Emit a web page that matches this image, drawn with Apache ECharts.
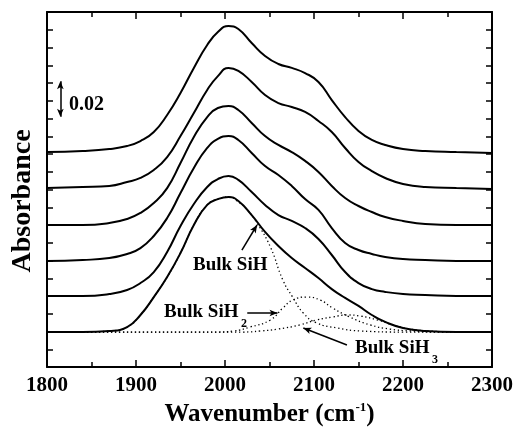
<!DOCTYPE html>
<html lang="en">
<head>
    <meta charset="UTF-8">
    <title>Absorbance vs Wavenumber</title>
    <script src="https://cdn.jsdelivr.net/npm/echarts/dist/echarts.min.js"></script>
    <style>
        body {
            margin: 0;
            background-color: #fff;
        }
        #chart {
            width: 513px;
            height: 432px;
        }
    </style>
</head>
<body>
<div id="chart"></div>

<script>
    // 六条实测谱线共用的波数
    const wavenumbers = [1800, 1840, 1870, 1890, 1905, 1920, 1935, 1950, 1965, 1980, 1992, 2004, 2015, 2030,
        2045, 2060, 2075, 2090, 2105, 2120, 2135, 2150, 2165, 2180, 2200, 2225, 2260, 2300];

    // 从上到下的六条谱线 (已加偏移)
    const spectrum1 = [0.1211, 0.1217, 0.1228, 0.1245, 0.1273, 0.1324, 0.1420, 0.1544, 0.1685, 0.1814, 0.1887, 0.1921, 0.1904, 0.1825,
        0.1752, 0.1707, 0.1685, 0.1656, 0.1606, 0.1504, 0.1408, 0.1330, 0.1279, 0.1251, 0.1228, 0.1217, 0.1211, 0.1206];
    const spectrum2 = [0.1008, 0.1014, 0.1020, 0.1042, 0.1065, 0.1110, 0.1183, 0.1301, 0.1431, 0.1561, 0.1639, 0.1685, 0.1668, 0.1606,
        0.1532, 0.1487, 0.1465, 0.1437, 0.1386, 0.1324, 0.1234, 0.1155, 0.1104, 0.1065, 0.1031, 0.1014, 0.1008, 0.1003];
    const spectrum3 = [0.0800, 0.0800, 0.0811, 0.0834, 0.0868, 0.0924, 0.1008, 0.1149, 0.1296, 0.1408, 0.1459, 0.1470, 0.1448, 0.1375,
        0.1301, 0.1251, 0.1211, 0.1161, 0.1099, 0.1020, 0.0952, 0.0907, 0.0873, 0.0845, 0.0823, 0.0806, 0.0800, 0.0800];
    const spectrum4 = [0.0597, 0.0603, 0.0614, 0.0637, 0.0670, 0.0738, 0.0839, 0.0980, 0.1121, 0.1234, 0.1285, 0.1301, 0.1279, 0.1206,
        0.1132, 0.1082, 0.1020, 0.0946, 0.0885, 0.0783, 0.0699, 0.0659, 0.0637, 0.0620, 0.0608, 0.0603, 0.0597, 0.0597];
    const spectrum5 = [0.0400, 0.0400, 0.0411, 0.0434, 0.0473, 0.0535, 0.0648, 0.0794, 0.0918, 0.1014, 0.1059, 0.1076, 0.1054, 0.0986,
        0.0913, 0.0856, 0.0823, 0.0783, 0.0721, 0.0631, 0.0535, 0.0473, 0.0439, 0.0423, 0.0411, 0.0406, 0.0400, 0.0400];
    const spectrum6 = [0.0197, 0.0197, 0.0203, 0.0225, 0.0293, 0.0394, 0.0507, 0.0642, 0.0800, 0.0913, 0.0946, 0.0958, 0.0935, 0.0856,
        0.0761, 0.0682, 0.0614, 0.0558, 0.0501, 0.0439, 0.0389, 0.0344, 0.0293, 0.0254, 0.0220, 0.0203, 0.0197, 0.0197];

    // 最下面谱线的拟合分量 (虚线)
    const sihWn = [1800, 1840, 1870, 1890, 1905, 1920, 1935, 1950, 1965, 1980, 1992, 2004, 2015, 2025, 2036, 2051, 2065, 2076,
        2088, 2103, 2126, 2152, 2200, 2300];
    const sihAbs = [0.0197, 0.0197, 0.0203, 0.0225, 0.0293, 0.0394, 0.0507, 0.0642, 0.0800, 0.0913, 0.0946, 0.0958, 0.0930, 0.0885,
        0.0811, 0.0676, 0.0490, 0.0394, 0.0304, 0.0248, 0.0220, 0.0203, 0.0197, 0.0197];
    const sih2Wn = [1800, 1990, 2010, 2028, 2051, 2065, 2076, 2092, 2107, 2121, 2140, 2163, 2185, 2208, 2240, 2300];
    const sih2Abs = [0.0197, 0.0197, 0.0203, 0.0225, 0.0265, 0.0332, 0.0377, 0.0394, 0.0377, 0.0332, 0.0282, 0.0237, 0.0214, 0.0203,
        0.0197, 0.0197];
    const sih3Wn = [1800, 2020, 2040, 2060, 2084, 2103, 2121, 2137, 2152, 2171, 2189, 2208, 2230, 2260, 2300];
    const sih3Abs = [0.0197, 0.0197, 0.0203, 0.0214, 0.0237, 0.0265, 0.0282, 0.0293, 0.0287, 0.0265, 0.0237, 0.0214, 0.0203,
        0.0197, 0.0197];

    // 标尺 0.02 和标注箭头 (数据坐标)
    const scaleBar = [[1815, 0.141], [1815, 0.161]];
    const sihArrow = [[2019, 0.0659], [2036, 0.0800]];
    const sih2Arrow = [[2025, 0.0304], [2059, 0.0304]];
    const sih3Arrow = [[2137, 0.0124], [2088, 0.0220]];

    const font = 'Liberation Serif, Times New Roman, serif';
    const spectra = [spectrum1, spectrum2, spectrum3, spectrum4, spectrum5, spectrum6];

    function pairs(xs, ys) {
        return xs.map((x, i) => [x, ys[i]]);
    }

    function dotted(xs, ys) {
        return {
            type: 'line',
            data: pairs(xs, ys),
            smooth: 0.5,
            symbol: 'none',
            z: 2,
            lineStyle: {color: '#000', width: 1.3, type: [1.3, 2.7]}
        };
    }

    function arrowLine(pts, both) {
        return [{coord: pts[0], symbol: both ? 'arrow' : 'none'}, {coord: pts[1], symbol: 'arrow'}];
    }

    const series = [
        dotted(sihWn, sihAbs),
        dotted(sih2Wn, sih2Abs),
        dotted(sih3Wn, sih3Abs)
    ];
    spectra.forEach(s => {
        series.push({
            type: 'line',
            data: pairs(wavenumbers, s),
            smooth: 0.5,
            symbol: 'none',
            z: 3,
            lineStyle: {color: '#000', width: 2}
        });
    });
    series[series.length - 1].markLine = {
        silent: true,
        animation: false,
        symbolSize: [5, 8],
        label: {show: false},
        lineStyle: {color: '#000', width: 1.5, type: 'solid'},
        data: [
            arrowLine(scaleBar, true),
            arrowLine(sihArrow, false),
            arrowLine(sih2Arrow, false),
            arrowLine(sih3Arrow, false)
        ]
    };

    const tickAxis = {
        axisLine: {show: true, onZero: false, lineStyle: {color: '#000', width: 2}},
        axisTick: {show: true, inside: true, length: 7, lineStyle: {color: '#000', width: 1.5}},
        splitLine: {show: false}
    };

    const chart = echarts.init(document.getElementById('chart'));
    chart.setOption({
        animation: false,
        grid: {left: 47, right: 21, top: 12, bottom: 65, containLabel: false, outerBoundsMode: 'none'},
        xAxis: [
            Object.assign({}, tickAxis, {
                type: 'value', min: 1800, max: 2300, interval: 100, position: 'bottom',
                minorTick: {show: true, splitNumber: 2, length: 5, lineStyle: {color: '#000', width: 1.5}},
                axisLabel: {color: '#000', fontFamily: font, fontWeight: 'bold', fontSize: 21, margin: 8,
                    formatter: v => String(v)},
                name: '{a|Wavenumber (cm}{b|-1}{a|)}',
                nameLocation: 'middle',
                nameGap: 34,
                nameTextStyle: {
                    rich: {
                        a: {fontFamily: font, fontWeight: 'bold', fontSize: 25, color: '#000', lineHeight: 28},
                        b: {fontFamily: font, fontWeight: 'bold', fontSize: 13, color: '#000', lineHeight: 14, verticalAlign: 'top'}
                    }
                }
            }),
            Object.assign({}, tickAxis, {
                type: 'value', min: 1800, max: 2300, interval: 100, position: 'top',
                minorTick: {show: true, splitNumber: 2, length: 5, lineStyle: {color: '#000', width: 1.5}},
                axisLabel: {show: false}
            })
        ],
        yAxis: [
            Object.assign({}, tickAxis, {
                type: 'value', min: 0, max: 0.2, interval: 0.01, position: 'left',
                axisTick: {show: true, inside: true, length: 6, lineStyle: {color: '#000', width: 1.5}},
                axisLabel: {show: false}
            }),
            Object.assign({}, tickAxis, {
                type: 'value', min: 0, max: 0.2, interval: 0.01, position: 'right',
                axisTick: {show: true, inside: true, length: 6, lineStyle: {color: '#000', width: 1.5}},
                axisLabel: {show: false}
            })
        ],
        graphic: [
            {type: 'text', x: 23, y: 201, rotation: Math.PI / 2,
                style: {text: 'Absorbance', font: 'bold 28px ' + font, fill: '#000', align: 'center', verticalAlign: 'middle'}},
            {type: 'text', left: 69, top: 95, style: {text: '0.02', font: 'bold 20px ' + font, fill: '#000'}},
            {type: 'text', left: 193, top: 256, style: {text: 'Bulk SiH', font: 'bold 19px ' + font, fill: '#000'}},
            {type: 'text', left: 164, top: 303, style: {text: 'Bulk SiH', font: 'bold 19px ' + font, fill: '#000'}},
            {type: 'text', left: 241, top: 318, style: {text: '2', font: 'bold 12px ' + font, fill: '#000'}},
            {type: 'text', left: 355, top: 339, style: {text: 'Bulk SiH', font: 'bold 19px ' + font, fill: '#000'}},
            {type: 'text', left: 432, top: 354, style: {text: '3', font: 'bold 12px ' + font, fill: '#000'}}
        ],
        series: series
    });
</script>
</body>
</html>
